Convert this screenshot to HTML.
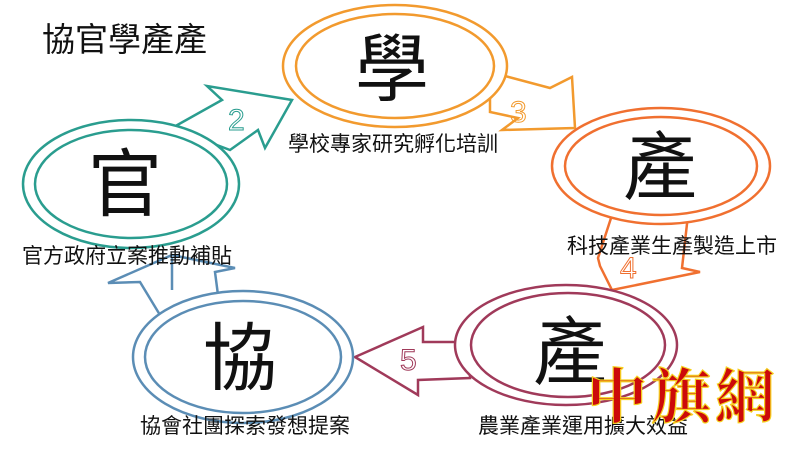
<!DOCTYPE html>
<html><head><meta charset="utf-8"><style>
html,body{margin:0;padding:0;background:#fff;width:800px;height:450px;overflow:hidden}
svg{display:block}
.t{font-family:"Liberation Sans","Noto Sans CJK TC",sans-serif;fill:#111}
.n{font-family:"Liberation Sans",sans-serif;font-size:30px;fill:none;stroke-width:1}
</style></head><body>
<svg width="800" height="450" viewBox="0 0 800 450" xmlns="http://www.w3.org/2000/svg">
<rect width="800" height="450" fill="#fff"/>
<polygon points="172,128 222,100 207,86 292,100 265,148 258,130 230,150" fill="#fff" stroke="#2a9d8f" stroke-width="2.5"/>
<text x="228" y="130" class="n" stroke="#2a9d8f">2</text>
<polygon points="490,72 550,88 572,77 575,128 502,130 518,118 490,112" fill="#fff" stroke="#f29a2e" stroke-width="2.5"/>
<text x="510" y="122" class="n" stroke="#f29a2e">3</text>
<polygon points="612,215 598,258 600,266 612,290 700,272 682,268 688,215" fill="#fff" stroke="#f07030" stroke-width="2.5"/>
<text x="620" y="278" class="n" stroke="#f07030">4</text>
<polygon points="470,342 423,342 423,327 355,357 418,395 418,380 470,378" fill="#fff" stroke="#a03a5a" stroke-width="2.5"/>
<text x="400" y="370" class="n" stroke="#a03a5a">5</text>
<polygon points="160,315 140,282 108,283 172,255 235,268 215,272 218,295" fill="#fff" stroke="#5b8db5" stroke-width="2.5"/>
<line x1="172" y1="258" x2="172" y2="290" stroke="#5b8db5" stroke-width="2.5"/>
<g fill="#fff" stroke-width="2.5">
<ellipse cx="395" cy="66" rx="112" ry="61" stroke="#f29a2e"/>
<ellipse cx="395" cy="66" rx="99" ry="52" stroke="#f29a2e"/>
<ellipse cx="131" cy="184" rx="108" ry="64" stroke="#2a9d8f"/>
<ellipse cx="131" cy="184" rx="96" ry="54" stroke="#2a9d8f"/>
<ellipse cx="661" cy="166" rx="109" ry="58" stroke="#f07030"/>
<ellipse cx="661" cy="166" rx="96" ry="49" stroke="#f07030"/>
<ellipse cx="566" cy="345" rx="111" ry="60" stroke="#a03a5a"/>
<ellipse cx="568" cy="345" rx="97" ry="52" stroke="#a03a5a"/>
<ellipse cx="243" cy="357" rx="110" ry="66" stroke="#5b8db5"/>
<ellipse cx="243" cy="357" rx="98" ry="56" stroke="#5b8db5"/>
</g>
<g font-size="74" text-anchor="middle">
<text x="392" y="95" class="t">學</text>
<text x="125" y="210" class="t">官</text>
<text x="660" y="193" class="t">產</text>
<text x="570" y="378" class="t">產</text>
<text x="240" y="384" class="t">協</text>
</g>
<text x="42" y="51" class="t" font-size="33">協官學產產</text>
<g font-size="21">
<text x="288" y="151" class="t">學校專家研究孵化培訓</text>
<text x="567" y="253" class="t">科技產業生產製造上市</text>
<text x="22" y="263" class="t">官方政府立案推動補貼</text>
<text x="140" y="433" class="t">協會社團探索發想提案</text>
<text x="478" y="433" class="t">農業產業運用擴大效益</text>
</g>
<text x="587" y="418" font-family="'Noto Serif CJK SC',serif" font-weight="bold" font-size="60" fill="#cc0a0a" stroke="#f5d020" stroke-width="1.2" letter-spacing="4">中旗網</text>
</svg>
</body></html>
